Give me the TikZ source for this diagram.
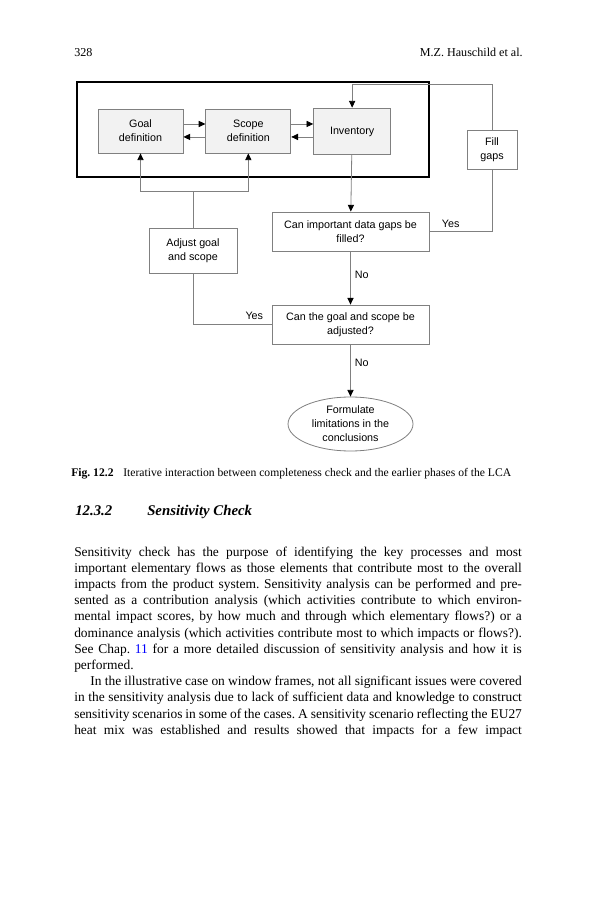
\documentclass[tikz,border=0pt]{standalone}
\usepackage{fontspec}
\setmainfont{Liberation Serif}
\newfontfamily\diagfont{Liberation Sans}
\usetikzlibrary{positioning,arrows.meta,shapes.geometric,calc}

\definecolor{boxgray}{HTML}{F2F2F2}
\definecolor{linegray}{HTML}{808080}

\begin{document}
\frenchspacing
\begin{tikzpicture}[x=0.7409bp,y=-0.7409bp,
   dfont/.style={font=\diagfont\fontsize{8}{10.4}\selectfont},
   phase/.style={draw=linegray,fill=boxgray,line width=0.6bp,dfont,align=center,
     minimum width=63bp,minimum height=32.6bp,inner sep=1bp},
   qbox/.style={draw=linegray,fill=white,line width=0.6bp,dfont,align=center,
     minimum width=116.3bp,minimum height=28.9bp,inner sep=1bp},
   link/.style={draw=linegray,line width=0.6bp},
   arr/.style={link,-{Triangle[length=5bp,width=4.6bp,color=black]}},
   lbl/.style={dfont,inner sep=1bp},
   node distance=16.3bp]
 \useasboundingbox (0,0) rectangle (593,900);

 %running head
 \node[anchor=base west,inner sep=0pt,font=\fontsize{9}{11}\selectfont] (folio) at (74,57) {328};
 \node[anchor=base east,inner sep=0pt,font=\fontsize{9}{11}\selectfont] (rhead) at (523,57) {M.Z. Hauschild et al.};

 %earlier phases of the LCA
 \node[phase] (ph_goal) at (140.5,131) {Goal\\definition};
 \node[phase, right=of ph_goal] (ph_scope) {Scope\\definition};
 \node[phase, right=of ph_scope, minimum width=57bp, minimum height=34bp, text depth=0pt] (ph_inv) {Inventory};
 \node[draw, line width=1.3bp, minimum width=260.8bp, minimum height=70.4bp, inner sep=0pt] (phases) at (253,129.5) {};

 \draw[arr] ([yshift=5.2bp]ph_goal.east) -- ([yshift=5.2bp]ph_scope.west);
 \draw[arr] ([yshift=-4.4bp]ph_scope.west) -- ([yshift=-4.4bp]ph_goal.east);
 \draw[arr] ([yshift=5.2bp]ph_scope.east) -- ([yshift=5.2bp]ph_inv.west);
 \draw[arr] ([yshift=-4.4bp]ph_inv.west) -- ([yshift=-4.4bp]ph_scope.east);

 %completeness check
 \node[qbox] (q_data) at (350.5,231.5) {Can important data gaps be\\filled?};
 \node[qbox] (q_scope) at (350.5,324.5) {Can the goal and scope be\\adjusted?};
 \node[qbox, minimum width=37bp] (fill_gaps) at (492,149.5) {Fill\\gaps};
 \node[qbox, minimum width=65.2bp, minimum height=33.3bp] (adj_scope) at (193,250.5) {Adjust goal\\and scope};
 \node[ellipse, draw=linegray, line width=0.6bp, dfont, align=center, inner sep=0pt,
       minimum width=92.6bp, minimum height=40bp] (concl) at (350.5,424) {Formulate\\limitations in the\\conclusions};

 \draw[arr] (ph_inv) -- (q_data);
 \draw[arr] (q_data) -- node[lbl, right=2bp, pos=0.45] (no1) {No} (q_scope);
 \draw[arr] (q_scope) -- node[lbl, right=2bp, pos=0.35] (no2) {No} (concl);

 %yes branches
 \draw[link] (q_data.east) -| node[lbl, above=1.5bp, pos=0.17] (yes1) {Yes} (fill_gaps.south);
 \draw[arr] (fill_gaps.north) |- ([yshift=17bp]ph_inv.north) -- (ph_inv.north);
 \draw[link] (q_scope.west) -| node[lbl, above=2.5bp, pos=0.11] (yes2) {Yes} (adj_scope.south);
 \coordinate[above=26.7bp of adj_scope.north] (split);
 \draw[link] (adj_scope.north) -- (split);
 \draw[arr] (split) -| (ph_goal.south);
 \draw[arr] (split) -| (ph_scope.south);

 %caption and text
 \node[anchor=base west,inner sep=0pt,font=\fontsize{8.65}{10}\selectfont] (caption) at (71,476)
   {\textbf{Fig. 12.2}\hspace{7.2bp}Iterative interaction between completeness check and the earlier phases of the LCA};
 \node[anchor=base west,inner sep=0pt,font=\fontsize{11}{13}\selectfont\bfseries\itshape] (secnum) at (75,515) {12.3.2};
 \node[anchor=base west,inner sep=0pt,font=\fontsize{11}{13}\selectfont\bfseries\itshape] (sectitle) at (147,515) {Sensitivity Check};

 \node[anchor=base west,inner sep=0pt,text width=117mm,align=justify,font=\fontsize{10}{12.05}\selectfont] (body) at (74,556)
   {\parindent=0pt
   Sensitivity check has the purpose of identifying the key processes and most\linebreak
   important elementary flows as those elements that contribute most to the overall\linebreak
   impacts from the product system. Sensitivity analysis can be performed and pre-\linebreak
   sented as a contribution analysis (which activities contribute to which environ-\linebreak
   mental impact scores, by how much and through which elementary flows?) or a\linebreak
   dominance analysis (which activities contribute most to which impacts or flows?).\linebreak
   See Chap. \textcolor{blue}{11} for a more detailed discussion of sensitivity analysis and how it is\linebreak
   performed.\par
   \parfillskip=0pt
   \hspace*{12bp}In the illustrative case on window frames, not all significant issues were covered\linebreak
   in the sensitivity analysis due to lack of sufficient data and knowledge to construct\linebreak
   sensitivity scenarios in some of the cases. A sensitivity scenario reflecting the EU27\linebreak
   heat mix was established and results showed that impacts for a few impact\par};
\end{tikzpicture}
\end{document}
